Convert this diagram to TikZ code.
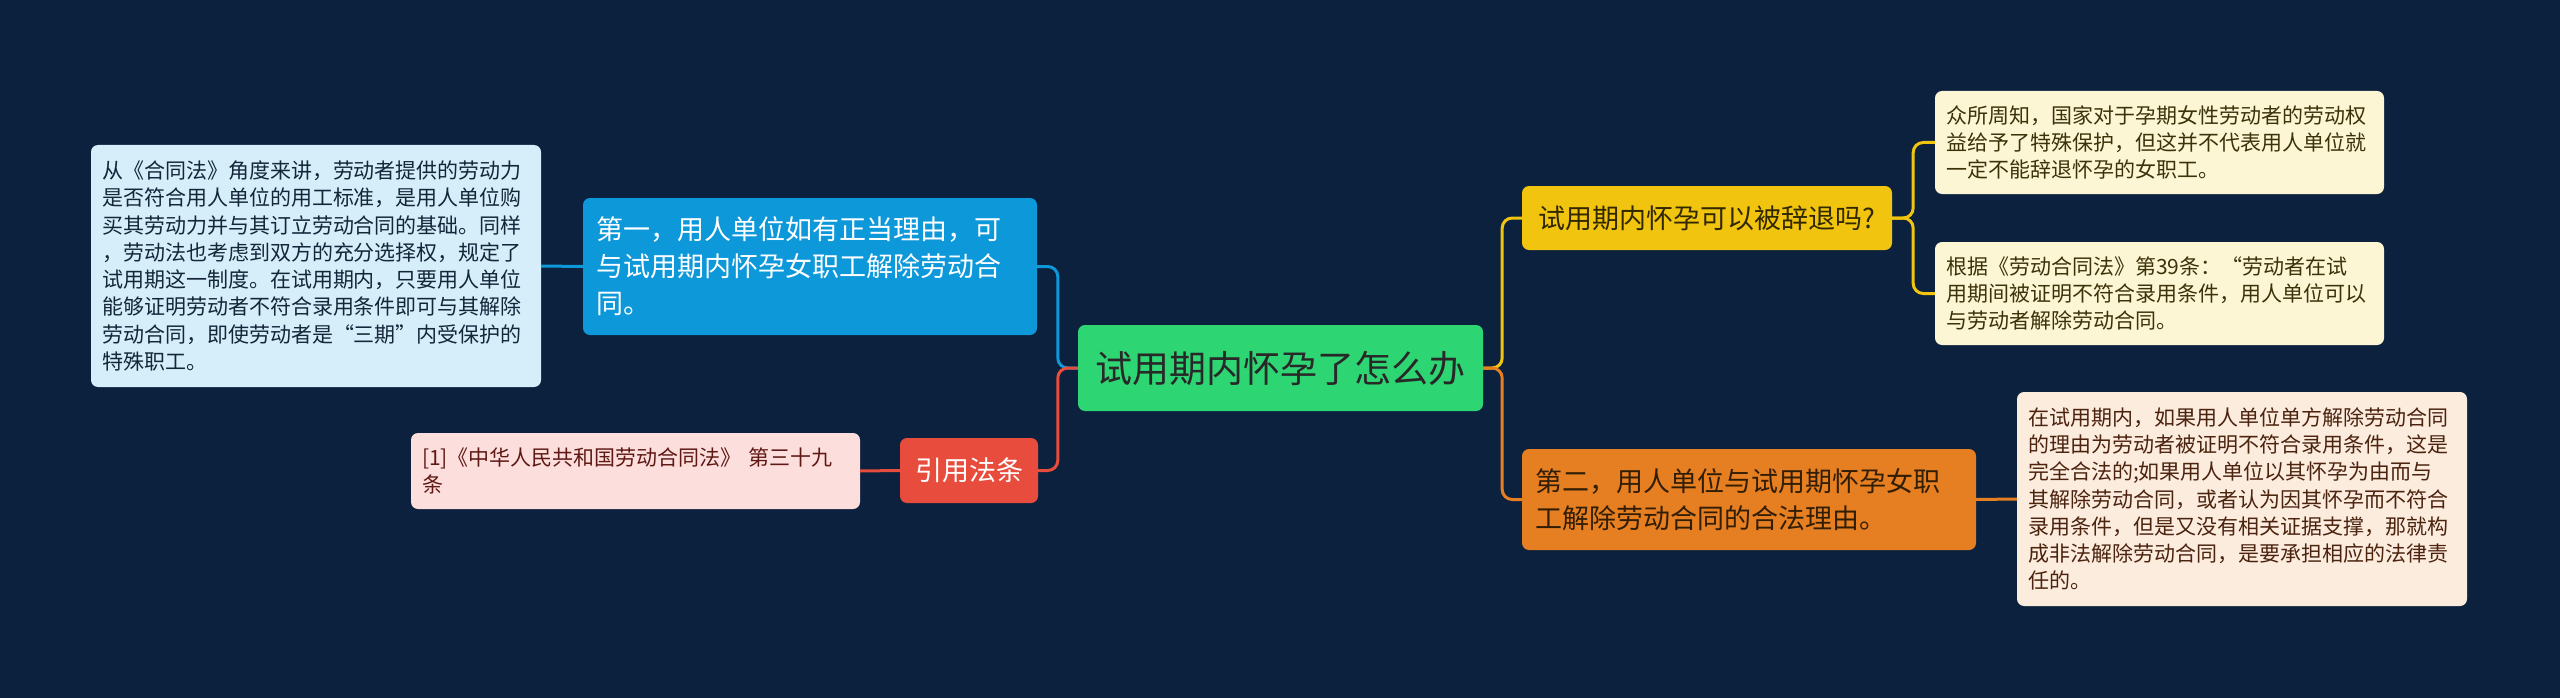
\documentclass[tikz,border=0pt]{standalone}
\usepackage{fontspec}
\setmainfont{Noto Sans CJK SC}
\definecolor{bgc}{RGB}{11,33,61}
\definecolor{lbfill}{RGB}{214,238,250}
\definecolor{lbtext}{RGB}{20,38,58}
\definecolor{bluec}{RGB}{13,152,218}
\definecolor{pinkfill}{RGB}{252,222,220}
\definecolor{pinktext}{RGB}{95,25,20}
\definecolor{redc}{RGB}{231,76,60}
\definecolor{greenc}{RGB}{46,213,115}
\definecolor{greentext}{RGB}{40,40,40}
\definecolor{yellowc}{RGB}{241,196,15}
\definecolor{yellowtext}{RGB}{50,40,0}
\definecolor{orangec}{RGB}{230,126,34}
\definecolor{orangetext}{RGB}{50,30,5}
\definecolor{creamfill}{RGB}{253,246,213}
\definecolor{creamtext}{RGB}{60,50,10}
\definecolor{peachfill}{RGB}{252,236,222}
\definecolor{peachtext}{RGB}{75,35,15}
\tikzset{
  box/.style={rounded corners=7pt, inner ysep=0pt, align=left, anchor=center},
  small/.style={box, font=\fontsize{21}{27.3}\selectfont, inner xsep=11pt, minimum height=#1},
  big/.style={box, font=\fontsize{27}{37}\selectfont, inner xsep=13pt, minimum height=#1},
  conn/.style={line width=3pt, rounded corners=10pt},
}
\begin{document}
\begin{tikzpicture}[x=1pt,y=-1pt]
\fill[bgc] (0,0) rectangle (2560,698);
\useasboundingbox (0,0) rectangle (2560,698);

% center
\node[box, fill=greenc, text=greentext, font=\fontsize{37}{44}\selectfont, minimum width=405pt, minimum height=86pt, align=center, inner xsep=0pt] (c) at (1280.5,368) {试用期内怀孕了怎么办};

% left side
\node[big=137pt, fill=bluec, text=white, text width=428pt] (b1) at (810,266.5) {第一，用人单位如有正当理由，可\\与试用期内怀孕女职工解除劳动合\\同。};
\node[small=242pt, fill=lbfill, text=lbtext, text width=428pt] (b1a) at (316,266) {从《合同法》角度来讲，劳动者提供的劳动力\\是否符合用人单位的用工标准，是用人单位购\\买其劳动力并与其订立劳动合同的基础。同样\\，劳动法也考虑到双方的充分选择权，规定了\\试用期这一制度。在试用期内，只要用人单位\\能够证明劳动者不符合录用条件即可与其解除\\劳动合同，即使劳动者是“三期”内受保护的\\特殊职工。};
\node[box, fill=redc, text=white, font=\fontsize{27}{33}\selectfont, minimum width=138pt, minimum height=65pt, align=center, inner xsep=0pt] (r) at (969,470.5) {引用法条};
\node[small=76pt, fill=pinkfill, text=pinktext, text width=427pt, inner xsep=11pt] (ra) at (635.5,471) {[1]《中华人民共和国劳动合同法》 第三十九\\条};

% right side
\node[box, fill=yellowc, text=yellowtext, font=\fontsize{27}{33}\selectfont, minimum width=370pt, minimum height=64pt, align=center, inner xsep=0pt] (y) at (1707,218) {试用期内怀孕可以被辞退吗?};
\node[big=101pt, fill=orangec, text=orangetext, text width=428pt] (o) at (1749,499.5) {第二，用人单位与试用期怀孕女职\\工解除劳动合同的合法理由。};
\node[small=103pt, fill=creamfill, text=creamtext, text width=427pt] (y1) at (2159.5,142.5) {众所周知，国家对于孕期女性劳动者的劳动权\\益给予了特殊保护，但这并不代表用人单位就\\一定不能辞退怀孕的女职工。};
\node[small=103pt, fill=creamfill, text=creamtext, text width=427pt] (y2) at (2159.5,293.5) {根据《劳动合同法》第39条：“劳动者在试\\用期间被证明不符合录用条件，用人单位可以\\与劳动者解除劳动合同。};
\node[small=214pt, fill=peachfill, text=peachtext, text width=428pt] (o1) at (2242,499) {在试用期内，如果用人单位单方解除劳动合同\\的理由为劳动者被证明不符合录用条件，这是\\完全合法的;如果用人单位以其怀孕为由而与\\其解除劳动合同，或者认为因其怀孕而不符合\\录用条件，但是又没有相关证据支撑，那就构\\成非法解除劳动合同，是要承担相应的法律责\\任的。};

% connectors
\coordinate (cl) at ([xshift=-20pt]c.west);
\coordinate (cr) at ([xshift=19pt]c.east);
\coordinate (yr) at ([xshift=21pt]y.east);
\draw[conn, bluec] (c.west) -- (cl) |- (b1.east);
\draw[conn, redc] (c.west) -- (cl) |- (r.east);
\draw[conn, bluec] (b1.west) -- (b1a.east);
\draw[conn, redc] (r.west) -- (ra.east);
\draw[conn, yellowc] (c.east) -- (cr) |- (y.west);
\draw[conn, orangec] (c.east) -- (cr) |- (o.west);
\draw[conn, yellowc] (y.east) -- (yr) |- (y1.west);
\draw[conn, yellowc] (y.east) -- (yr) |- (y2.west);
\draw[conn, orangec] (o.east) -- (o1.west);
\end{tikzpicture}
\end{document}
